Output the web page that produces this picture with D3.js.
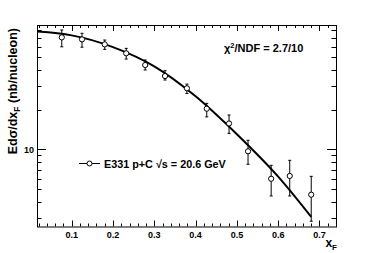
<!DOCTYPE html>
<html>
<head>
<meta charset="utf-8">
<script src="https://cdn.jsdelivr.net/npm/d3@7"></script>
<style>
body { margin: 0; background: #fff; }
text { font-family: "Liberation Sans", Arial, sans-serif; font-weight: bold; fill: #000; }
</style>
</head>
<body>
<div id="chart"></div>
<script>
var width = 374,
	height = 253,
	margin = {top: 25, right: 38, bottom: 26.5, left: 37};

// E331 p+C data points
var xF = [0.076, 0.125, 0.180, 0.232, 0.278, 0.326, 0.379, 0.427, 0.481, 0.527, 0.583, 0.628, 0.680];
var yVal = [70.5, 68.1, 62.4, 53.4, 43.5, 35.9, 29.0, 20.3, 15.7, 9.66, 5.98, 6.28, 4.53];
var yHi = [80.2, 75.7, 67.3, 58.2, 47.5, 39.4, 31.2, 22.3, 18.2, 11.7, 7.56, 8.25, 6.24];
var yLo = [59.8, 59.4, 57.2, 48.3, 39.9, 33.5, 26.5, 17.6, 13.2, 7.7, 4.43, 4.43, 2.85];

// fit curve
var fitX = [0.017, 0.1, 0.2, 0.3, 0.4, 0.5, 0.6, 0.68];
var fitY = [78, 73, 59.5, 42.5, 25.2, 13.0, 6.2, 3.07];

var xTicks = [0.1, 0.2, 0.3, 0.4, 0.5, 0.6, 0.7];
var yTicks = [10];

var svg = d3.select("#chart").append("svg")
	.attr("width", width)
	.attr("height", height);

var x = d3.scaleLinear()
	.domain([0.016, 0.74])
	.range([margin.left, width - margin.right]);

var y = d3.scaleLog()
	.domain([2.6, 87.5])
	.range([height - margin.bottom, margin.top]);

var x0 = x.range()[0], x1 = x.range()[1],
	y0 = y.range()[0], y1 = y.range()[1];

// minor ticks every 0.02 on x
var xMinor = d3.range(1, 37).map(function(i) { return i * 0.02; })
	.filter(function(v) { return v > 0.016 && v < 0.74; });
var yMinor = [3, 4, 5, 6, 7, 8, 9, 20, 30, 40, 50, 60, 70, 80];

var ticks = svg.append("g")
	.attr("stroke", "#000")
	.attr("stroke-width", 1);

xMinor.forEach(function(v) {
	var major = Math.abs(v * 10 - Math.round(v * 10)) < 1e-6;
	var len = major ? 6 : 3;
	var px = Math.round(x(v)) + 0.5;
	ticks.append("line").attr("x1", px).attr("x2", px).attr("y1", y0).attr("y2", y0 - len);
	ticks.append("line").attr("x1", px).attr("x2", px).attr("y1", y1).attr("y2", y1 + len);
});

yMinor.concat(yTicks).forEach(function(v) {
	var len = yTicks.indexOf(v) >= 0 ? 9 : 4.5;
	var py = Math.round(y(v)) + 0.5;
	ticks.append("line").attr("x1", x0).attr("x2", x0 + len).attr("y1", py).attr("y2", py);
	ticks.append("line").attr("x1", x1).attr("x2", x1 - len).attr("y1", py).attr("y2", py);
});

svg.append("rect")
	.attr("x", x0 + 0.5)
	.attr("y", y1 + 0.5)
	.attr("width", x1 - x0)
	.attr("height", y0 - y1)
	.attr("fill", "none")
	.attr("stroke", "#000")
	.attr("stroke-width", 1);

// tick labels
svg.append("g").selectAll("text")
	.data(xTicks)
	.enter()
	.append("text")
	.attr("x", function(d) { return x(d); })
	.attr("y", y0 + 11)
	.attr("text-anchor", "middle")
	.style("font-size", "9px")
	.text(function(d) { return d3.format(".1f")(d); });

svg.append("g").selectAll("text")
	.data(yTicks)
	.enter()
	.append("text")
	.attr("x", x0 - 3)
	.attr("y", function(d) { return y(d) + 3.3; })
	.attr("text-anchor", "end")
	.style("font-size", "9px")
	.text(function(d) { return d; });

// axis titles
var xt = svg.append("text")
	.attr("x", x1 + 1)
	.attr("y", height - 6)
	.attr("text-anchor", "end")
	.style("font-size", "12px");
xt.append("tspan").text("x");
xt.append("tspan").attr("dy", 3).style("font-size", "8px").text("F");

var yt = svg.append("text")
	.attr("transform", "translate(17," + (y1 + 3) + ") rotate(-90)")
	.attr("text-anchor", "end")
	.style("font-size", "12.5px");
yt.append("tspan").text("Edσ/dx");
yt.append("tspan").attr("dy", 3).style("font-size", "8.5px").text("F");
yt.append("tspan").attr("dy", -3).text(" (nb/nucleon)");

// fit curve
var line = d3.line()
	.x(function(d, i) { return x(fitX[i]); })
	.y(function(d) { return y(d); })
	.curve(d3.curveMonotoneX);

svg.append("path")
	.datum(fitY)
	.attr("d", line)
	.attr("fill", "none")
	.attr("stroke", "#000")
	.attr("stroke-width", 2);

// error bars and markers
var pts = svg.append("g").selectAll("g")
	.data(xF)
	.enter()
	.append("g");

pts.append("line")
	.attr("x1", function(d) { return x(d); })
	.attr("x2", function(d) { return x(d); })
	.attr("y1", function(d, i) { return y(yHi[i]); })
	.attr("y2", function(d, i) { return y(yLo[i]); })
	.attr("stroke", "#000");

pts.append("line")
	.attr("x1", function(d) { return x(d) - 1.5; })
	.attr("x2", function(d) { return x(d) + 1.5; })
	.attr("y1", function(d, i) { return y(yHi[i]); })
	.attr("y2", function(d, i) { return y(yHi[i]); })
	.attr("stroke", "#000");

pts.append("line")
	.attr("x1", function(d) { return x(d) - 1.5; })
	.attr("x2", function(d) { return x(d) + 1.5; })
	.attr("y1", function(d, i) { return y(yLo[i]); })
	.attr("y2", function(d, i) { return y(yLo[i]); })
	.attr("stroke", "#000");

pts.append("circle")
	.attr("cx", function(d) { return x(d); })
	.attr("cy", function(d, i) { return y(yVal[i]); })
	.attr("r", 2.6)
	.attr("fill", "#fff")
	.attr("stroke", "#000");

// chi2 text
var chi = svg.append("text")
	.attr("x", 224)
	.attr("y", 52)
	.style("font-size", "11px");
chi.append("tspan").text("χ");
chi.append("tspan").attr("dy", -4).style("font-size", "7.5px").text("2");
chi.append("tspan").attr("dy", 4).text("/NDF = 2.7/10");

// legend
var lg = svg.append("g");
lg.append("line")
	.attr("x1", 79).attr("x2", 100)
	.attr("y1", 163.5).attr("y2", 163.5)
	.attr("stroke", "#000");
lg.append("circle")
	.attr("cx", 89.5).attr("cy", 163.5).attr("r", 2.5)
	.attr("fill", "#fff").attr("stroke", "#000");
lg.append("text")
	.attr("x", 104)
	.attr("y", 167.5)
	.style("font-size", "10.8px")
	.text("E331 p+C \u221As = 20.6 GeV");
</script>
</body>
</html>
